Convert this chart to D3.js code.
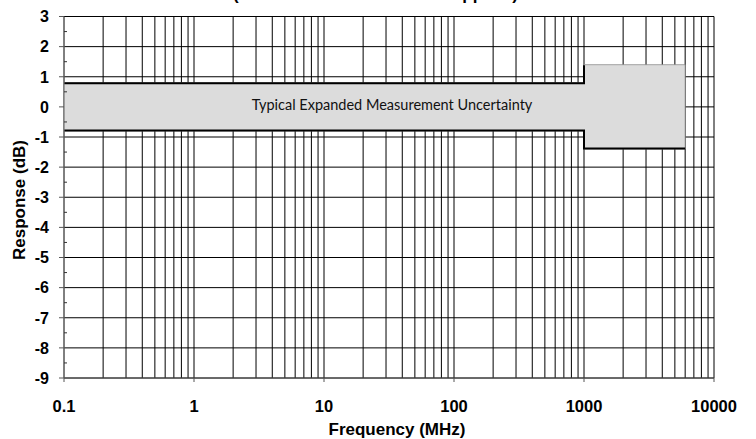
<!DOCTYPE html>
<html>
<head>
<meta charset="utf-8">
<script src="https://cdn.jsdelivr.net/npm/d3@7"></script>
<style>
  html, body { margin: 0; padding: 0; background: #fff; }
  svg { display: block; }
</style>
</head>
<body>
<svg id="chart" width="756" height="439"></svg>
<script>
// ---- data ----
const titleText = "(Nominal Level Tested as Supplied)";
const xTickValues = [0.1, 1, 10, 100, 1000, 10000];
const xTickLabels = ["0.1", "1", "10", "100", "1000", "10000"];
const yTickValues = [3, 2, 1, 0, -1, -2, -3, -4, -5, -6, -7, -8, -9];
const yMinorValues = [2.5, 1.5, 0.5, -0.5, -1.5, -2.5, -3.5, -4.5, -5.5, -6.5, -7.5, -8.5];
const bandFreq  = [0.1, 1000, 1000, 6000];
const bandUpper = [0.8, 0.8, 1.4, 1.4];
const bandLower = [-0.8, -0.8, -1.4, -1.4];
const bandLabel = "Typical Expanded Measurement Uncertainty";
const xTitle = "Frequency (MHz)";
const yTitle = "Response (dB)";

// ---- layout ----
const svg = d3.select("#chart");
const L = 64, R = 714, T = 16.5, B = 378;
const x = d3.scaleLog().domain([0.1, 10000]).range([L, R]);
const y = d3.scaleLinear().domain([-9, 3]).range([B, T]);
const boldFont = "'Liberation Sans', Arial, sans-serif";

// grid
const vGrid = x.ticks();
svg.append("g").selectAll("line").data(vGrid).join("line")
  .attr("x1", d => x(d)).attr("x2", d => x(d))
  .attr("y1", T).attr("y2", B)
  .attr("stroke", "#000").attr("stroke-width", 1);
svg.append("g").selectAll("line").data(yTickValues).join("line")
  .attr("x1", L).attr("x2", R)
  .attr("y1", d => y(d)).attr("y2", d => y(d))
  .attr("stroke", "#000").attr("stroke-width", 1);

// band
const bandData = bandFreq.map((f, i) => ({f, u: bandUpper[i], l: bandLower[i]}));
svg.append("path").datum(bandData)
  .attr("d", d3.area().x(d => x(d.f)).y0(d => y(d.l)).y1(d => y(d.u)))
  .attr("fill", "#dcdcdc").attr("stroke", "#8c8c8c").attr("stroke-width", 0.8);

// limit lines
const upperLine = bandData.filter(d => d.f <= 1000);
svg.append("path").datum(upperLine)
  .attr("d", d3.line().x(d => x(d.f)).y(d => y(d.u) + 0.5))
  .attr("fill", "none").attr("stroke", "#000").attr("stroke-width", 2);
svg.append("path").datum(bandData)
  .attr("d", d3.line().x(d => x(d.f)).y(d => y(d.l) - 0.5))
  .attr("fill", "none").attr("stroke", "#000").attr("stroke-width", 2);

// axes lines
svg.append("line").attr("x1", L).attr("x2", L).attr("y1", T).attr("y2", B)
  .attr("stroke", "#808080").attr("stroke-width", 1);
svg.append("line").attr("x1", L).attr("x2", R).attr("y1", B).attr("y2", B)
  .attr("stroke", "#555").attr("stroke-width", 1);

// y ticks
svg.append("g").selectAll("line").data(yTickValues).join("line")
  .attr("x1", L - 5).attr("x2", L).attr("y1", d => y(d)).attr("y2", d => y(d))
  .attr("stroke", "#555");
svg.append("g").selectAll("line").data(yMinorValues).join("line")
  .attr("x1", L).attr("x2", L + 3).attr("y1", d => y(d)).attr("y2", d => y(d))
  .attr("stroke", "#333");
svg.append("g").selectAll("text").data(yTickValues).join("text")
  .attr("x", 49).attr("y", d => y(d) + 5.8)
  .attr("text-anchor", "end")
  .attr("font-family", boldFont).attr("font-weight", "bold").attr("font-size", 16)
  .text(d => d);

// x ticks
svg.append("g").selectAll("line").data(xTickValues).join("line")
  .attr("x1", d => x(d)).attr("x2", d => x(d)).attr("y1", B).attr("y2", B + 4)
  .attr("stroke", "#555");
svg.append("g").selectAll("text").data(xTickValues).join("text")
  .attr("x", d => x(d)).attr("y", 411.5)
  .attr("text-anchor", "middle")
  .attr("font-family", boldFont).attr("font-weight", "bold").attr("font-size", 16.5)
  .text((d, i) => xTickLabels[i]);

// band label
svg.append("text").attr("x", 392).attr("y", 110)
  .attr("text-anchor", "middle")
  .attr("font-family", "Lato, 'Open Sans', sans-serif").attr("font-size", 14.5)
  .attr("fill", "#111")
  .text(bandLabel);

// titles
svg.append("text").attr("x", 397).attr("y", 435)
  .attr("text-anchor", "middle")
  .attr("font-family", boldFont).attr("font-weight", "bold").attr("font-size", 17)
  .text(xTitle);
svg.append("text")
  .attr("transform", "translate(25,200) rotate(-90)")
  .attr("text-anchor", "middle")
  .attr("font-family", boldFont).attr("font-weight", "bold").attr("font-size", 17)
  .text(yTitle);
svg.append("text").attr("x", 375.5).attr("y", 0)
  .attr("text-anchor", "middle")
  .attr("font-family", boldFont).attr("font-weight", "bold").attr("font-size", 17)
  .text(titleText);
</script>
</body>
</html>
